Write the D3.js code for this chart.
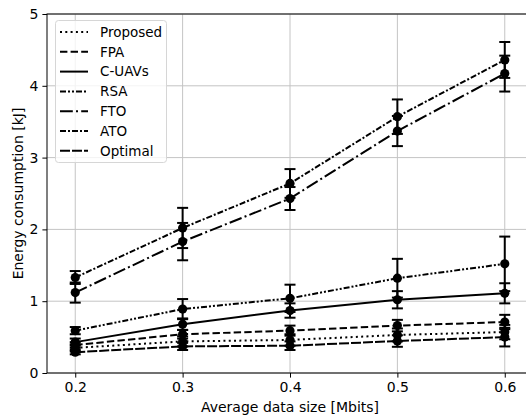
<!DOCTYPE html>
<html><head><meta charset="utf-8">
<script src="https://cdn.jsdelivr.net/npm/d3@7"></script>
<style>body{margin:0;background:#fff}svg{display:block;font-family:"DejaVu Sans",sans-serif}</style>
</head><body><svg id="c" width="526" height="416"></svg>
<script>
const xValues = [0.2, 0.3, 0.4, 0.5, 0.6];
const seriesNames = ["Proposed", "FPA", "C-UAVs", "RSA", "FTO", "ATO", "Optimal"];
const proposed = [0.35, 0.44, 0.46, 0.53, 0.57];
const proposedErr = [0.05, 0.07, 0.08, 0.09, 0.10];
const fpa = [0.39, 0.54, 0.59, 0.66, 0.71];
const fpaErr = [0.04, 0.06, 0.07, 0.08, 0.10];
const cuavs = [0.43, 0.68, 0.87, 1.02, 1.11];
const cuavsErr = [0.05, 0.08, 0.10, 0.12, 0.14];
const rsa = [0.59, 0.89, 1.04, 1.32, 1.52];
const rsaErr = [0.05, 0.14, 0.19, 0.27, 0.38];
const fto = [1.12, 1.83, 2.43, 3.37, 4.17];
const ftoErr = [0.14, 0.26, 0.16, 0.21, 0.25];
const ato = [1.33, 2.02, 2.64, 3.57, 4.36];
const atoErr = [0.09, 0.28, 0.20, 0.24, 0.25];
const optimal = [0.29, 0.37, 0.38, 0.445, 0.50];
const optimalErr = [0.03, 0.05, 0.06, 0.08, 0.13];
const xTicks = [0.2, 0.3, 0.4, 0.5, 0.6];
const yTicks = [0, 1, 2, 3, 4, 5];

const seriesValues = [proposed, fpa, cuavs, rsa, fto, ato, optimal];
const seriesErrors = [proposedErr, fpaErr, cuavsErr, rsaErr, ftoErr, atoErr, optimalErr];
const dashes = ["2,3.3", "7.4,3.2", null, "6,2,2,2,2,2", "12.8,3.2,2,3.2", "6,2,2,2", "10,2"];

const svg = d3.select("#c");
const L = 47, R = 533, T = 14, B = 373;
const x = d3.scaleLinear().domain([0.1737, 0.6263]).range([L, R]);
const y = d3.scaleLinear().domain([0, 5]).range([B, T]);

const g = svg.append("g");
g.selectAll(".gx").data(xTicks).enter().append("line")
  .attr("x1", d => x(d)).attr("x2", d => x(d)).attr("y1", T).attr("y2", B)
  .attr("stroke", "#c4c4c4").attr("stroke-width", 1);
g.selectAll(".gy").data(yTicks).enter().append("line")
  .attr("x1", L).attr("x2", R).attr("y1", d => y(d)).attr("y2", d => y(d))
  .attr("stroke", "#c4c4c4").attr("stroke-width", 1);

const xAxis = d3.axisBottom(x).tickValues(xTicks).tickFormat(d3.format(".1f")).tickSize(4.6).tickPadding(4);
const yAxis = d3.axisLeft(y).tickValues(yTicks).tickFormat(d3.format("d")).tickSize(4.6).tickPadding(4);
const ax = svg.append("g").attr("transform", `translate(0,${B})`).call(xAxis);
const ay = svg.append("g").attr("transform", `translate(${L},0)`).call(yAxis);
[ax, ay].forEach(a => {
  a.select(".domain").remove();
  a.selectAll("line").attr("stroke", "#000").attr("stroke-width", 1);
  a.selectAll("text").attr("font-size", 14).attr("fill", "#000").attr("font-family", "DejaVu Sans");
});
svg.append("rect").attr("x", L).attr("y", T).attr("width", R - L).attr("height", B - T)
  .attr("fill", "none").attr("stroke", "#000").attr("stroke-width", 1);

const line = d3.line().x((d, i) => x(xValues[i])).y(d => y(d));
seriesValues.forEach((vals, s) => {
  const sg = svg.append("g");
  sg.append("path").attr("d", line(vals)).attr("fill", "none").attr("stroke", "#000")
    .attr("stroke-width", 2).attr("stroke-dasharray", dashes[s]);
  vals.forEach((v, i) => {
    const e = seriesErrors[s][i], cx = x(xValues[i]);
    sg.append("line").attr("x1", cx).attr("x2", cx).attr("y1", y(v - e)).attr("y2", y(v + e))
      .attr("stroke", "#000").attr("stroke-width", 2);
    [v - e, v + e].forEach(c => sg.append("line").attr("x1", cx - 5.5).attr("x2", cx + 5.5)
      .attr("y1", y(c)).attr("y2", y(c)).attr("stroke", "#000").attr("stroke-width", 2));
    sg.append("circle").attr("cx", cx).attr("cy", y(v)).attr("r", 4.6).attr("fill", "#000");
  });
});

const lg = svg.append("g");
lg.append("rect").attr("x", 55.5).attr("y", 20.5).attr("width", 111).attr("height", 142)
  .attr("rx", 3).attr("fill", "#fff").attr("fill-opacity", 0.8).attr("stroke", "#d6d6d6").attr("stroke-width", 1);
seriesNames.forEach((n, i) => {
  const yy = 32 + i * 19.8;
  lg.append("line").attr("x1", 60).attr("x2", 88).attr("y1", yy).attr("y2", yy)
    .attr("stroke", "#000").attr("stroke-width", 2).attr("stroke-dasharray", dashes[i]);
  lg.append("text").attr("x", 100).attr("y", yy).attr("dy", "0.35em").attr("font-size", 13.5).text(n);
});

svg.append("text").attr("x", (L + R) / 2).attr("y", 412).attr("text-anchor", "middle")
  .attr("font-size", 14).text("Average data size [Mbits]");
svg.append("text").attr("transform", `translate(18,${(T + B) / 2}) rotate(-90)`).attr("text-anchor", "middle")
  .attr("dy", "0.35em").attr("font-size", 14).text("Energy consumption [kJ]");
</script></body></html>
